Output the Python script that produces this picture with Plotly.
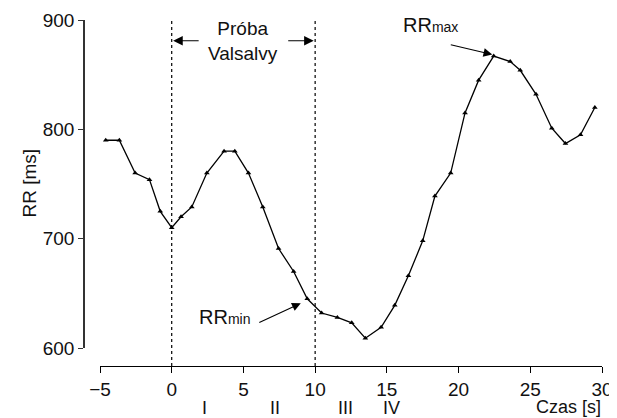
import plotly.graph_objects as go

# data
time_s = [-4.6, -3.65, -2.55, -1.55, -0.8, 0.0, 0.65, 1.4, 2.45, 3.65, 4.4, 5.35,
          6.35, 7.45, 8.5, 9.45, 10.45, 11.55, 12.55, 13.5, 14.6, 15.55, 16.5, 17.5,
          18.35, 19.45, 20.45, 21.4, 22.45, 23.6, 24.3, 25.4, 26.5, 27.45, 28.5, 29.5]
rr_ms = [790, 790, 760, 754, 725, 710, 720, 729, 760, 780, 780, 760,
         729, 691, 670, 645, 632, 628, 623, 609, 619, 639, 666, 698,
         739, 760, 815, 845, 867, 862, 854, 832, 801, 787, 795, 820]

x_ticks = [-5, 0, 5, 10, 15, 20, 25, 30]
x_ticktext = ["\u22125", "0", "5", "10", "15", "20", "25", "30"]
y_ticks = [600, 700, 800, 900]

valsalva_start, valsalva_end = 0, 10
phase_labels = ["I", "II", "III", "IV"]
phase_x = [2.3, 7.2, 12.1, 15.3]

FONT = "Liberation Sans, Arial, Helvetica, sans-serif"
W, H = 617, 418
OFF = 8  # page body margin of the browser

def py(p):  # reference pixel row -> paper y
    return 1 - (p - OFF) / H

def px(p):  # reference pixel column -> paper x
    return (p - OFF) / W

fig = go.Figure()
fig.add_trace(go.Scatter(
    x=time_s, y=rr_ms, mode="lines+markers",
    line=dict(color="black", width=1.3),
    marker=dict(symbol="triangle-up", size=5, color="black"),
    cliponaxis=False, showlegend=False,
))

# dotted vertical lines marking the Valsalva manoeuvre
for xv in (valsalva_start, valsalva_end):
    fig.add_shape(type="line", xref="x", yref="paper", x0=xv, x1=xv,
                  y0=py(366), y1=py(19),
                  line=dict(color="black", width=1.2, dash="dot"))

ann = []
# Próba Valsalvy label and arrows
ann.append(dict(x=5, y=881, xref="x", yref="y", text="Próba<br>Valsalvy",
                showarrow=False, font=dict(size=19)))
ann.append(dict(x=valsalva_start + 0.1, y=881, xref="x", yref="y", text="",
                showarrow=True, ax=27, ay=0, arrowhead=2, arrowsize=1.6,
                arrowwidth=1.2, arrowcolor="black"))
ann.append(dict(x=valsalva_end - 0.1, y=881, xref="x", yref="y", text="",
                showarrow=True, ax=-27, ay=0, arrowhead=2, arrowsize=1.6,
                arrowwidth=1.2, arrowcolor="black"))
# RRmin / RRmax
ann.append(dict(x=3.7, y=628, xref="x", yref="y",
                text="RR<span style='font-size:14px'>min</span>",
                showarrow=False, font=dict(size=20)))
ann.append(dict(x=9.0, y=641, xref="x", yref="y", text="", showarrow=True,
                ax=-43, ay=20, arrowhead=2, arrowsize=1.6, arrowwidth=1.1,
                arrowcolor="black"))
ann.append(dict(x=18.05, y=895, xref="x", yref="y",
                text="RR<span style='font-size:14px'>max</span>",
                showarrow=False, font=dict(size=20)))
ann.append(dict(x=22.35, y=868.5, xref="x", yref="y", text="", showarrow=True,
                ax=-43, ay=-10, arrowhead=2, arrowsize=1.6, arrowwidth=1.1,
                arrowcolor="black"))
# phase labels
for lab, xv in zip(phase_labels, phase_x):
    ann.append(dict(x=xv, y=py(408), xref="x", yref="paper", text=lab,
                    showarrow=False, font=dict(size=18), yanchor="middle",
                    borderpad=0))
# axis titles
ann.append(dict(x=30, y=py(407), xref="x", yref="paper", text="Czas [s]",
                showarrow=False, xanchor="right", yanchor="middle",
                font=dict(size=18), borderpad=0))
ann.append(dict(x=px(16), y=py(183), xref="paper", yref="paper", text="RR [ms]",
                textangle=-90, showarrow=False, font=dict(size=19)))

fig.update_layout(
    width=W, height=H,
    margin=dict(l=0, r=0, t=0, b=0, autoexpand=False),
    paper_bgcolor="white", plot_bgcolor="white",
    font=dict(family=FONT, size=19, color="#111"),
    annotations=ann,
    xaxis=dict(range=[-5, 30], domain=[px(100), px(602)], anchor="free",
               position=py(366), showline=True, linecolor="black", linewidth=1.3,
               ticks="outside", ticklen=6, tickwidth=1.2, tickcolor="black",
               tickvals=x_ticks, ticktext=x_ticktext, showgrid=False,
               zeroline=False, tickfont=dict(size=19)),
    yaxis=dict(range=[600, 900], domain=[py(348), py(20)], anchor="free",
               position=px(84), showline=True, linecolor="#333", linewidth=1.5,
               ticks="outside", ticklen=5, tickwidth=1.3, tickcolor="#333",
               tickvals=y_ticks, showgrid=False, zeroline=False,
               tickfont=dict(size=19)),
)

fig.write_html("out.html")
